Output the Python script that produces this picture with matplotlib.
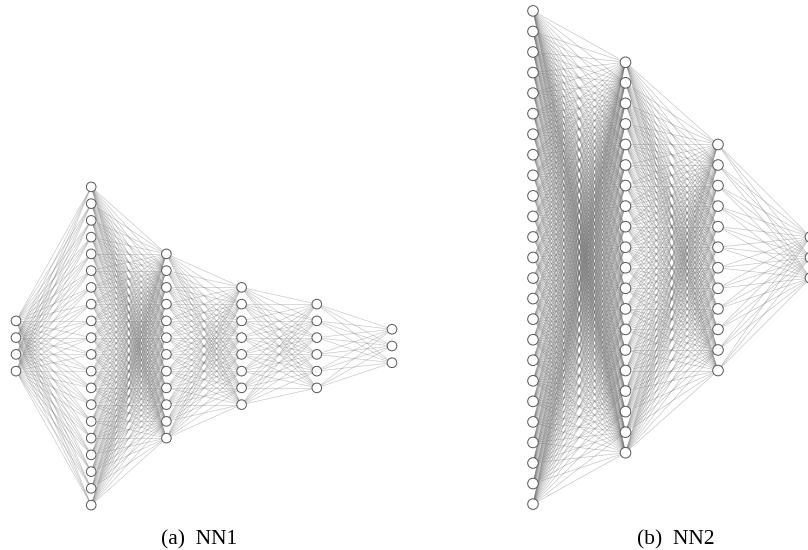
import matplotlib
matplotlib.use("Agg")
import matplotlib.pyplot as plt
from matplotlib.collections import LineCollection
from matplotlib.patches import Circle

# Data: neurons per layer
nn1_layers = [4, 20, 12, 8, 6, 3]
nn2_layers = [25, 20, 12, 3]
captions = ["(a)  NN1", "(b)  NN2"]

fig = plt.figure(figsize=(8.08, 5.5), dpi=100)
ax = fig.add_axes([0, 0, 1, 1])
ax.set_xlim(0, 808)
ax.set_ylim(550, 0)
ax.axis("off")


def draw_net(layers, x0, dx, yc, dy, r, lw, alpha):
    pos = []
    for i, n in enumerate(layers):
        x = x0 + i * dx
        ys = [yc + (j - (n - 1) / 2) * dy for j in range(n)]
        pos.append([(x, y) for y in ys])
    segs = []
    for a, b in zip(pos[:-1], pos[1:]):
        for p in a:
            for q in b:
                segs.append([p, q])
    lc = LineCollection(segs, colors=(0.45, 0.45, 0.45), linewidths=lw, alpha=alpha, zorder=1)
    ax.add_collection(lc)
    for layer in pos:
        for (x, y) in layer:
            ax.add_patch(Circle((x, y), r, facecolor="white", edgecolor="#555555",
                                linewidth=0.7, zorder=2))


draw_net(nn1_layers, 16, 75.2, 346, 16.75, 4.8, 0.45, 0.42)
draw_net(nn2_layers, 533, 92.5, 257.5, 20.55, 5.3, 0.45, 0.45)

ax.text(199, 540, captions[0], ha="center", va="center", fontsize=15.5,
        family="Liberation Serif")
ax.text(676, 540, captions[1], ha="center", va="center", fontsize=15.5,
        family="Liberation Serif")

fig.savefig("out.png", dpi=100)
